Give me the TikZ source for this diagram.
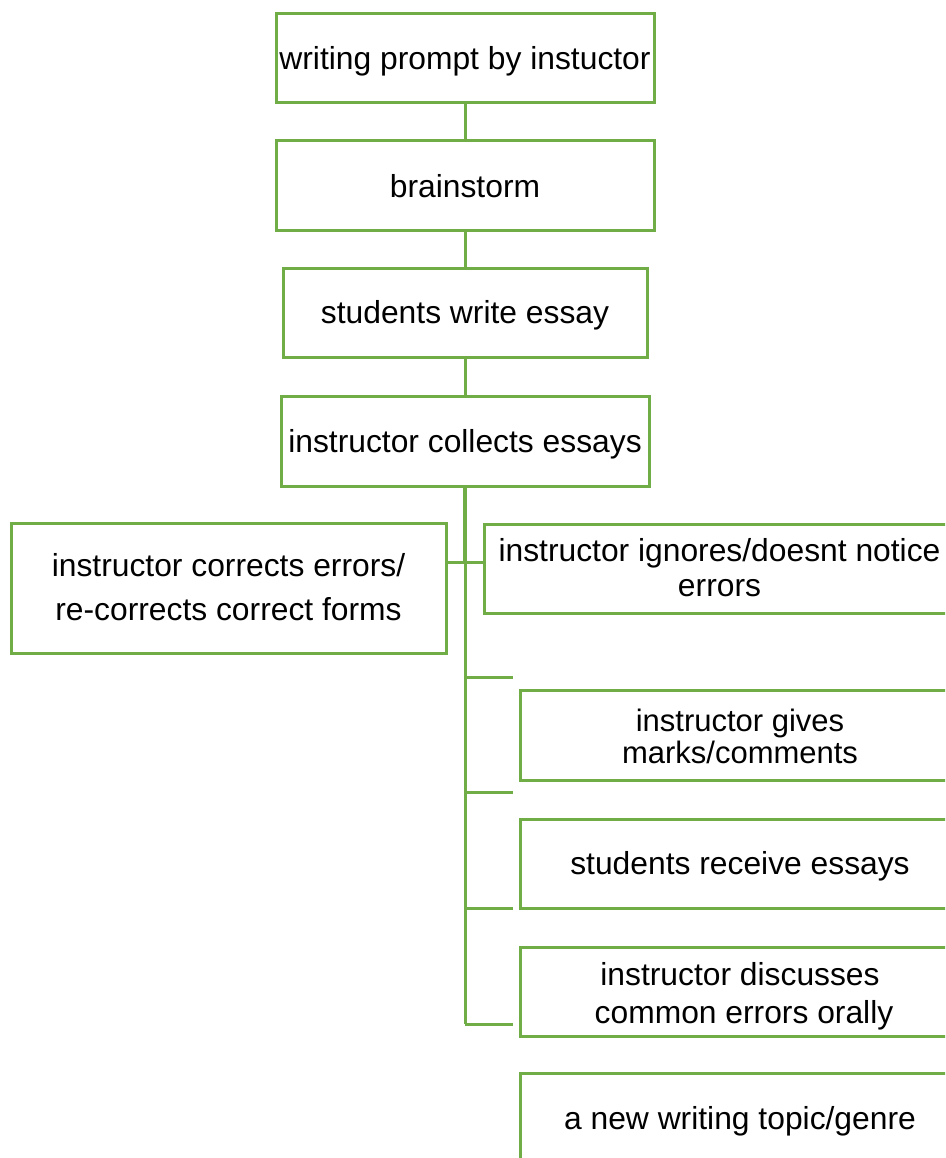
\documentclass[tikz,border=0pt]{standalone}
\usepackage{fontspec}
\setmainfont{Liberation Sans}
\definecolor{boxgreen}{HTML}{70AD47}
\begin{document}
\begin{tikzpicture}[x=1pt,y=-1pt,
  stepbox/.style={draw=boxgreen, line width=3pt, rectangle, inner sep=0pt,
    font=\fontsize{31.8}{36}\selectfont, align=center,
    text height=22.5pt, text depth=0pt},
  link/.style={draw=boxgreen, line width=3pt}]
\useasboundingbox (0,0) rectangle (945,1158);
\clip (0,0) rectangle (945,1158);

% main sequence
\node[stepbox, minimum width=378pt, minimum height=89pt] (b1) at (465,58.5) {writing prompt by instuctor};
\node[stepbox, minimum width=378pt, minimum height=90pt] (b2) at (465,186) {brainstorm};
\node[stepbox, minimum width=364pt, minimum height=89pt] (b3) at (465,312.5) {students write essay};
\node[stepbox, minimum width=368pt, minimum height=90pt] (b4) at (465,441) {instructor collects essays};

% branches
\node[stepbox, minimum width=435pt, minimum height=130pt, font=\fontsize{31.8}{44}\selectfont,
  text height=65pt] (b5) at (228.5,588)
  {instructor corrects errors/\\re-corrects correct forms};
\node[stepbox, minimum width=471pt, minimum height=89pt, font=\fontsize{31.8}{35}\selectfont,
  text height=55pt] (b6) at (719.5,568.5)
  {instructor ignores/doesnt notice\\errors};
\node[stepbox, minimum width=440pt, minimum height=90pt, font=\fontsize{31}{32}\selectfont,
  text height=56pt] (b7) at (740,735)
  {instructor gives\\marks/comments};
\node[stepbox, minimum width=440pt, minimum height=89pt] (b8) at (740,863.5) {students receive essays};
\node[stepbox, minimum width=440pt, minimum height=89pt, font=\fontsize{31.8}{38}\selectfont,
  text height=64pt] (b9) at (740,991.5)
  {instructor discusses\\\hspace*{8pt}common errors orally};
\node[stepbox, minimum width=440pt, minimum height=90pt] (b10) at (740,1118) {a new writing topic/genre};

% connectors of the sequence
\draw[link] (b1.south) -- (b2.north);
\draw[link] (b2.south) -- (b3.north);
\draw[link] (b3.south) -- (b4.north);

% trunk and stubs
\coordinate (j0) at (465,562);
\coordinate (t1) at (465,677);  \coordinate (s1) at (513,677);
\coordinate (t2) at (465,792);  \coordinate (s2) at (513,792);
\coordinate (t3) at (465,908);  \coordinate (s3) at (513,908);
\coordinate (t4) at (465,1024); \coordinate (s4) at (513,1024);

\draw[link, line width=4.5pt] (b4.south) -- (j0);
\draw[link] (j0) -- (t4);
\draw[link] (b5.east |- j0) -- (b6.west |- j0);
\draw[link] (t1) -- (s1);
\draw[link] (t2) -- (s2);
\draw[link] (t3) -- (s3);
\draw[link] (t4) -- (s4);
\end{tikzpicture}
\end{document}
